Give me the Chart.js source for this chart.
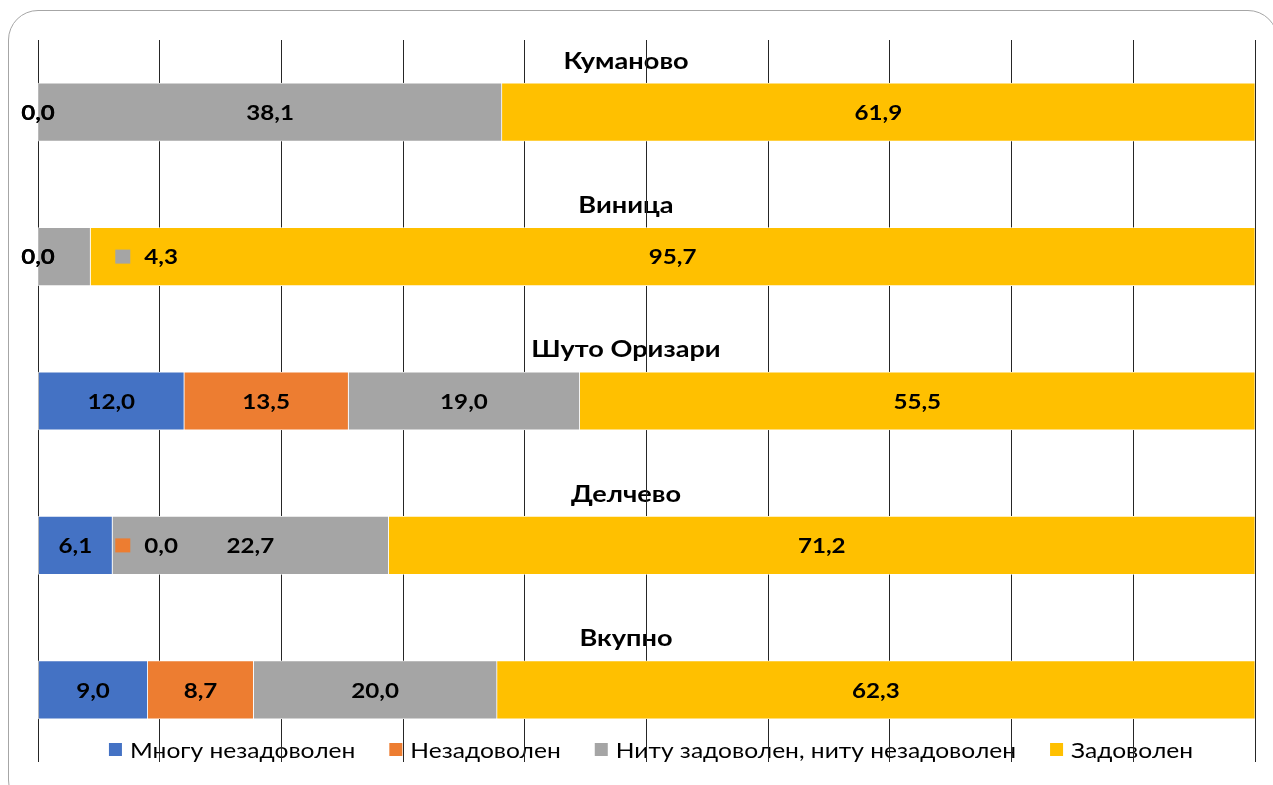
<!DOCTYPE html>
<html>
<head>
<meta charset="utf-8">
<script src="https://cdn.jsdelivr.net/npm/chart.js@4.4.1/dist/chart.umd.min.js"></script>
<style>
  html, body { margin: 0; padding: 0; background: #fff; overflow: hidden; }
  #frame {
    position: absolute; left: 8px; top: 10px; width: 1270px; height: 800px;
    border: 1.5px solid #a6a6a6; border-radius: 30px; box-sizing: border-box;
  }
  #wrap { position: absolute; left: 0; top: 0; width: 1273px; height: 785px; }
</style>
</head>
<body>
<div id="frame"></div>
<div id="wrap"><canvas id="chart"></canvas></div>
<script>
// Податоци
const cities = ["Куманово", "Виница", "Шуто Оризари", "Делчево", "Вкупно"];
const seriesNames = ["Многу незадоволен", "Незадоволен", "Ниту задоволен, ниту незадоволен", "Задоволен"];
const veryUnsatisfied = [0.0, 0.0, 12.0, 6.1, 9.0];
const unsatisfied = [0.0, 0.0, 13.5, 0.0, 8.7];
const neutral = [38.1, 4.3, 19.0, 22.7, 20.0];
const satisfied = [61.9, 95.7, 55.5, 71.2, 62.3];
const seriesColors = ["#4472C4", "#ED7D31", "#A5A5A5", "#FFC000"];

const FONT = "Lato";
const CALLOUT_AT = 6.35;    // каде Excel ги поместил малите ознаки

function fmt(v) {
  return v.toFixed(1).replace(".", ",");
}

// пишува текст развлечен хоризонтално (оригиналот е развлечен)
function drawText(ctx, text, x, y, align, sx) {
  const w = ctx.measureText(text).width * sx;
  let left = x;
  if (align === "center") left = x - w / 2;
  if (align === "right") left = x - w;
  ctx.save();
  ctx.translate(left, y);
  ctx.scale(sx, 1);
  ctx.textAlign = "left";
  ctx.fillText(text, 0, 0);
  ctx.restore();
  return w;
}

// имиња на градовите и легенда (под мрежата, како во оригиналот)
const underlayPlugin = {
  id: "underlay",
  beforeDraw(chart) {
    const ctx = chart.ctx;
    const meta = chart.getDatasetMeta(0);
    ctx.save();
    ctx.fillStyle = "#000";
    ctx.textBaseline = "middle";
    ctx.font = "bold 23px " + FONT;
    meta.data.forEach((bar, i) => {
      drawText(ctx, cities[i], 626, bar.y - 51, "center", 1.18);
    });

    // легенда
    ctx.font = "21px " + FONT;
    const sx = 1.17;
    const box = 13, gapBox = 8, gapItem = 34;
    const widths = seriesNames.map(n => ctx.measureText(n).width * sx);
    let total = 0;
    widths.forEach(w => total += box + gapBox + w);
    total += gapItem * (seriesNames.length - 1);
    let x = 651 - total / 2;
    const y = 750;
    seriesNames.forEach((n, i) => {
      ctx.fillStyle = seriesColors[i];
      ctx.fillRect(x, y - 7, box, box);
      ctx.fillStyle = "#000";
      drawText(ctx, n, x + box + gapBox, y + 1, "left", sx);
      x += box + gapBox + widths[i] + gapItem;
    });
    ctx.restore();
  }
};

// ознаки со вредности
const labelPlugin = {
  id: "valueLabels",
  afterDatasetsDraw(chart) {
    const ctx = chart.ctx;
    const xScale = chart.scales.x;
    const left = chart.chartArea.left;
    const sx = 1.15;
    ctx.save();
    ctx.font = "bold 21px " + FONT;
    ctx.textBaseline = "middle";
    ctx.fillStyle = "#000";
    chart.data.datasets.forEach((ds, di) => {
      const meta = chart.getDatasetMeta(di);
      meta.data.forEach((bar, i) => {
        const v = ds.data[i];
        const start = Math.min(bar.base, bar.x);
        const end = Math.max(bar.base, bar.x);
        const text = fmt(v);
        if (v === 0 && Math.abs(start - left) < 1) {
          drawText(ctx, text, left, bar.y + 1, "center", sx);
        } else if (end - start < 60) {
          const kx = Math.max(end + 3, xScale.getPixelForValue(CALLOUT_AT));
          ctx.fillStyle = seriesColors[di];
          ctx.fillRect(kx, bar.y - 7, 15, 14);
          ctx.fillStyle = "#000";
          drawText(ctx, text, kx + 29, bar.y + 1, "left", sx);
        } else {
          drawText(ctx, text, (start + end) / 2, bar.y + 1, "center", sx);
        }
      });
    });
    ctx.restore();
  }
};

const seriesValues = [veryUnsatisfied, unsatisfied, neutral, satisfied];

new Chart(document.getElementById("chart"), {
  type: "bar",
  data: {
    labels: cities,
    datasets: seriesNames.map((name, i) => ({
      label: name,
      data: seriesValues[i],
      backgroundColor: seriesColors[i],
      borderColor: "#ffffff",
      borderWidth: 0.75,
      borderSkipped: false,
      barThickness: 58
    }))
  },
  plugins: [underlayPlugin, labelPlugin],
  options: {
    indexAxis: "y",
    responsive: true,
    maintainAspectRatio: false,
    animation: false,
    layout: { padding: { left: 38, right: 18, top: 40, bottom: 23 } },
    plugins: {
      legend: { display: false },
      tooltip: { enabled: false }
    },
    scales: {
      x: {
        stacked: true,
        min: 0,
        max: 100,
        ticks: { display: false, stepSize: 10 },
        border: { display: false },
        grid: { color: "#262626", lineWidth: 1, drawTicks: false }
      },
      y: {
        stacked: true,
        display: false
      }
    }
  }
});
</script>
</body>
</html>
